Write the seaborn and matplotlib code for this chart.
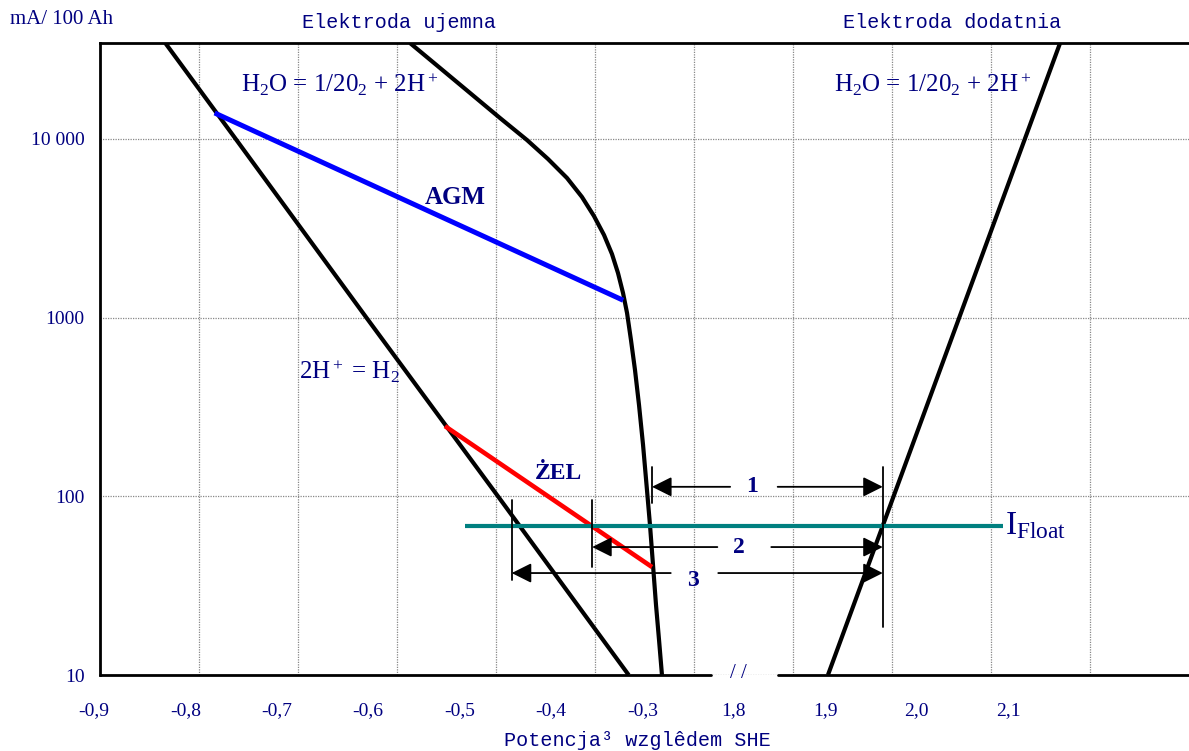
import numpy as np
import pandas as pd
import matplotlib
matplotlib.use('Agg')
import matplotlib.pyplot as plt
import seaborn as sns

# --- dane: potencjal [V vs SHE], prad [mA/100Ah] ---
h2_v = [-0.822, -0.745, -0.602, -0.458, -0.315]
h2_i = [34400, 10000, 1000, 100, 10]

neg_v = [-0.5543, -0.5214, -0.4886, -0.4558, -0.4263, -0.4033, -0.3825, -0.3661,
         -0.3530, -0.3420, -0.3333, -0.3267, -0.3212, -0.3168, -0.3125, -0.3081,
         -0.3037, -0.2993, -0.2950, -0.2917, -0.2884, -0.2851, -0.2818, -0.2786]
neg_i = [34410, 24930, 18070, 13090, 9860, 7720, 6043, 4730,
         3702, 2899, 2269, 1776, 1373, 1061, 749, 509,
         324, 194, 108.5, 69.1, 41.3, 24.6, 15.7, 10]

pos_v = [1.903, 2.157]
pos_i = [10, 34400]

agm_v = [-0.768, -0.321]
agm_i = [13970, 1250]

zel_v = [-0.516, -0.2895]
zel_i = [247, 40.2]

float_v = [-0.494, 2.0945]
float_i = [68, 68]

x_ticks = [-0.9, -0.8, -0.7, -0.6, -0.5, -0.4, -0.3, 1.8, 1.9, 2.0, 2.1]
x_labels = ['-0,9', '-0,8', '-0,7', '-0,6', '-0,5', '-0,4', '-0,3', '1,8', '1,9', '2,0', '2,1']
y_ticks = [10, 100, 1000, 10000]
y_labels = ['10', '100', '1000', '10 000']

# linie wymiarowe 1, 2, 3 (lewy grot, koniec lewej kreski, tekst, poczatek prawej kreski, prawy grot)
dims = [
    dict(label='1', y=113, left=-0.2895, left_end=1.796, text=1.820, right_start=1.848, right=1.963, ty=113),
    dict(label='2', y=52, left=-0.355, left_end=1.782, text=1.806, right_start=1.841, right=1.963, ty=52),
    dict(label='3', y=37.2, left=-0.443, left_end=-0.269, text=1.755, right_start=1.783, right=1.963, ty=34),
]
# pionowe kreski ograniczajace
ticks_v = [(-0.2895, 146, 92), (1.963, 146, 18.6), (-0.355, 95.3, 40.2), (-0.443, 95.3, 34)]

navy = '#000080'

sns.set_style('white')
plt.rcParams['font.family'] = ['Liberation Serif', 'DejaVu Serif']
plt.rcParams['mathtext.fontset'] = 'custom'
plt.rcParams['mathtext.rm'] = 'Liberation Serif'
plt.rcParams['mathtext.it'] = 'Liberation Serif:italic'
plt.rcParams['mathtext.bf'] = 'Liberation Serif:bold'

W, H = 1189, 751
fig = plt.figure(figsize=(W / 100, H / 100), dpi=100)
ax = fig.add_axes([100 / W, 1 - 675 / H, 1089 / W, 632 / H])


# os przerwana: czesc ujemna bez zmian, czesc dodatnia przesunieta o 2 V
def fwd(v):
    v = np.asarray(v, dtype=float)
    return np.where(v > 0.8, v - 2.0, v)


def inv(p):
    p = np.asarray(p, dtype=float)
    return np.where(p > -0.25, p + 2.0, p)


ax.set_xscale('function', functions=(fwd, inv))
ax.set_yscale('log')

curves = [
    (h2_v, h2_i, 'black', 3.0),
    (neg_v, neg_i, 'black', 3.0),
    (pos_v, pos_i, 'black', 3.0),
    (agm_v, agm_i, '#0000ff', 3.6),
    (zel_v, zel_i, '#ff0000', 3.3),
    (float_v, float_i, '#008080', 3.0),
]
for xs, ys, col, lw in curves:
    d = pd.DataFrame({'v': xs, 'i': ys})
    sns.lineplot(data=d, x='v', y='i', ax=ax, color=col, linewidth=lw,
                 sort=False, estimator=None, solid_capstyle='butt')

ax.set_xlim(-0.89344, 2.29803)
ax.set_ylim(10, 34410)

# siatka: pionowe linie co 99 px, niezalezne od etykiet (jak w Excelu)
grid_p = [-0.89344 + k * 99 / 914 for k in range(1, 11)]
grid_v = [float(inv(p)) for p in grid_p]
ax.xaxis.set_major_locator(matplotlib.ticker.FixedLocator(grid_v))
ax.xaxis.set_major_formatter(matplotlib.ticker.NullFormatter())
ax.xaxis.set_minor_locator(matplotlib.ticker.NullLocator())
ax.yaxis.set_major_locator(matplotlib.ticker.FixedLocator(y_ticks))
ax.yaxis.set_major_formatter(matplotlib.ticker.FixedFormatter(y_labels))
ax.yaxis.set_minor_locator(matplotlib.ticker.NullLocator())
ax.tick_params(axis='x', which='both', length=0)
ax.tick_params(axis='y', which='both', length=0, pad=11, labelsize=14, labelcolor=navy)
ax.grid(True, which='major', color='#888888', linestyle=(0, (1, 1)), linewidth=0.9)
ax.set_xlabel('')
ax.set_ylabel('')

# etykiety osi x (przesuniete wzgledem siatki, jak w oryginale)
for v, lab in zip(x_ticks, x_labels):
    ax.text(v, -0.057, lab, transform=ax.get_xaxis_transform(), color=navy, fontsize=14,
            ha='center', va='center', clip_on=False)

for s in ['left', 'top']:
    ax.spines[s].set_linewidth(2.0)
    ax.spines[s].set_color('black')
ax.spines['right'].set_visible(False)
ax.spines['bottom'].set_visible(False)
ax.axhline(10, 0, 0.5611, color='black', lw=2.0, clip_on=False)
ax.axhline(10, 0.6226, 1, color='black', lw=2.0, clip_on=False)

# strzalki wymiarowe
arrow = dict(arrowstyle='-|>,head_length=0.6,head_width=0.3', color='black', lw=1.3,
             mutation_scale=20, shrinkA=0, shrinkB=0)
for d in dims:
    ax.annotate('', xy=(d['left'], d['y']), xytext=(d['left_end'], d['y']), arrowprops=arrow)
    ax.annotate('', xy=(d['right'], d['y']), xytext=(d['right_start'], d['y']), arrowprops=arrow)
    ax.text(d['text'], d['ty'], d['label'], color=navy, fontsize=17, fontweight='bold',
            ha='center', va='center')
for v, i1, i2 in ticks_v:
    ax.plot([v, v], [i1, i2], color='black', lw=1.3)

# opisy na wykresie
ax.text(-0.631, 20000, r'H$_2$O = 1/20$_2$ + 2H$^+$', color=navy, fontsize=18, ha='center', va='center')
ax.text(2.017, 20000, r'H$_2$O = 1/20$_2$ + 2H$^+$', color=navy, fontsize=18, ha='center', va='center')
ax.text(-0.620, 497, r'2H$^+$ = H$_2$', color=navy, fontsize=18, ha='center', va='center')
ax.text(-0.505, 4670, 'AGM', color=navy, fontsize=18, fontweight='bold', ha='center', va='center')
ax.text(-0.392, 135, 'ŻEL', color=navy, fontsize=17, fontweight='bold', ha='center', va='center')
ax.text(2.097, 68, r'I$_{\mathrm{Float}}$', color=navy, fontsize=24, ha='left', va='center')

fig.text(10 / W, 1 - 20 / H, 'mA/ 100 Ah', color=navy, fontsize=15, ha='left', va='center')
fig.text(399 / W, 1 - 23 / H, 'Elektroda ujemna', color=navy, fontsize=14.5,
         family='Liberation Mono', ha='center', va='center')
fig.text(952 / W, 1 - 23 / H, 'Elektroda dodatnia', color=navy, fontsize=14.5,
         family='Liberation Mono', ha='center', va='center')
fig.text(738 / W, 1 - 673 / H, '/ /', color=navy, fontsize=15, ha='center', va='center')
fig.text(637 / W, 1 - 740 / H, 'Potencja³ wzglêdem SHE', color=navy, fontsize=14.5,
         family='Liberation Mono', ha='center', va='center')

fig.savefig('out.png', dpi=100)
